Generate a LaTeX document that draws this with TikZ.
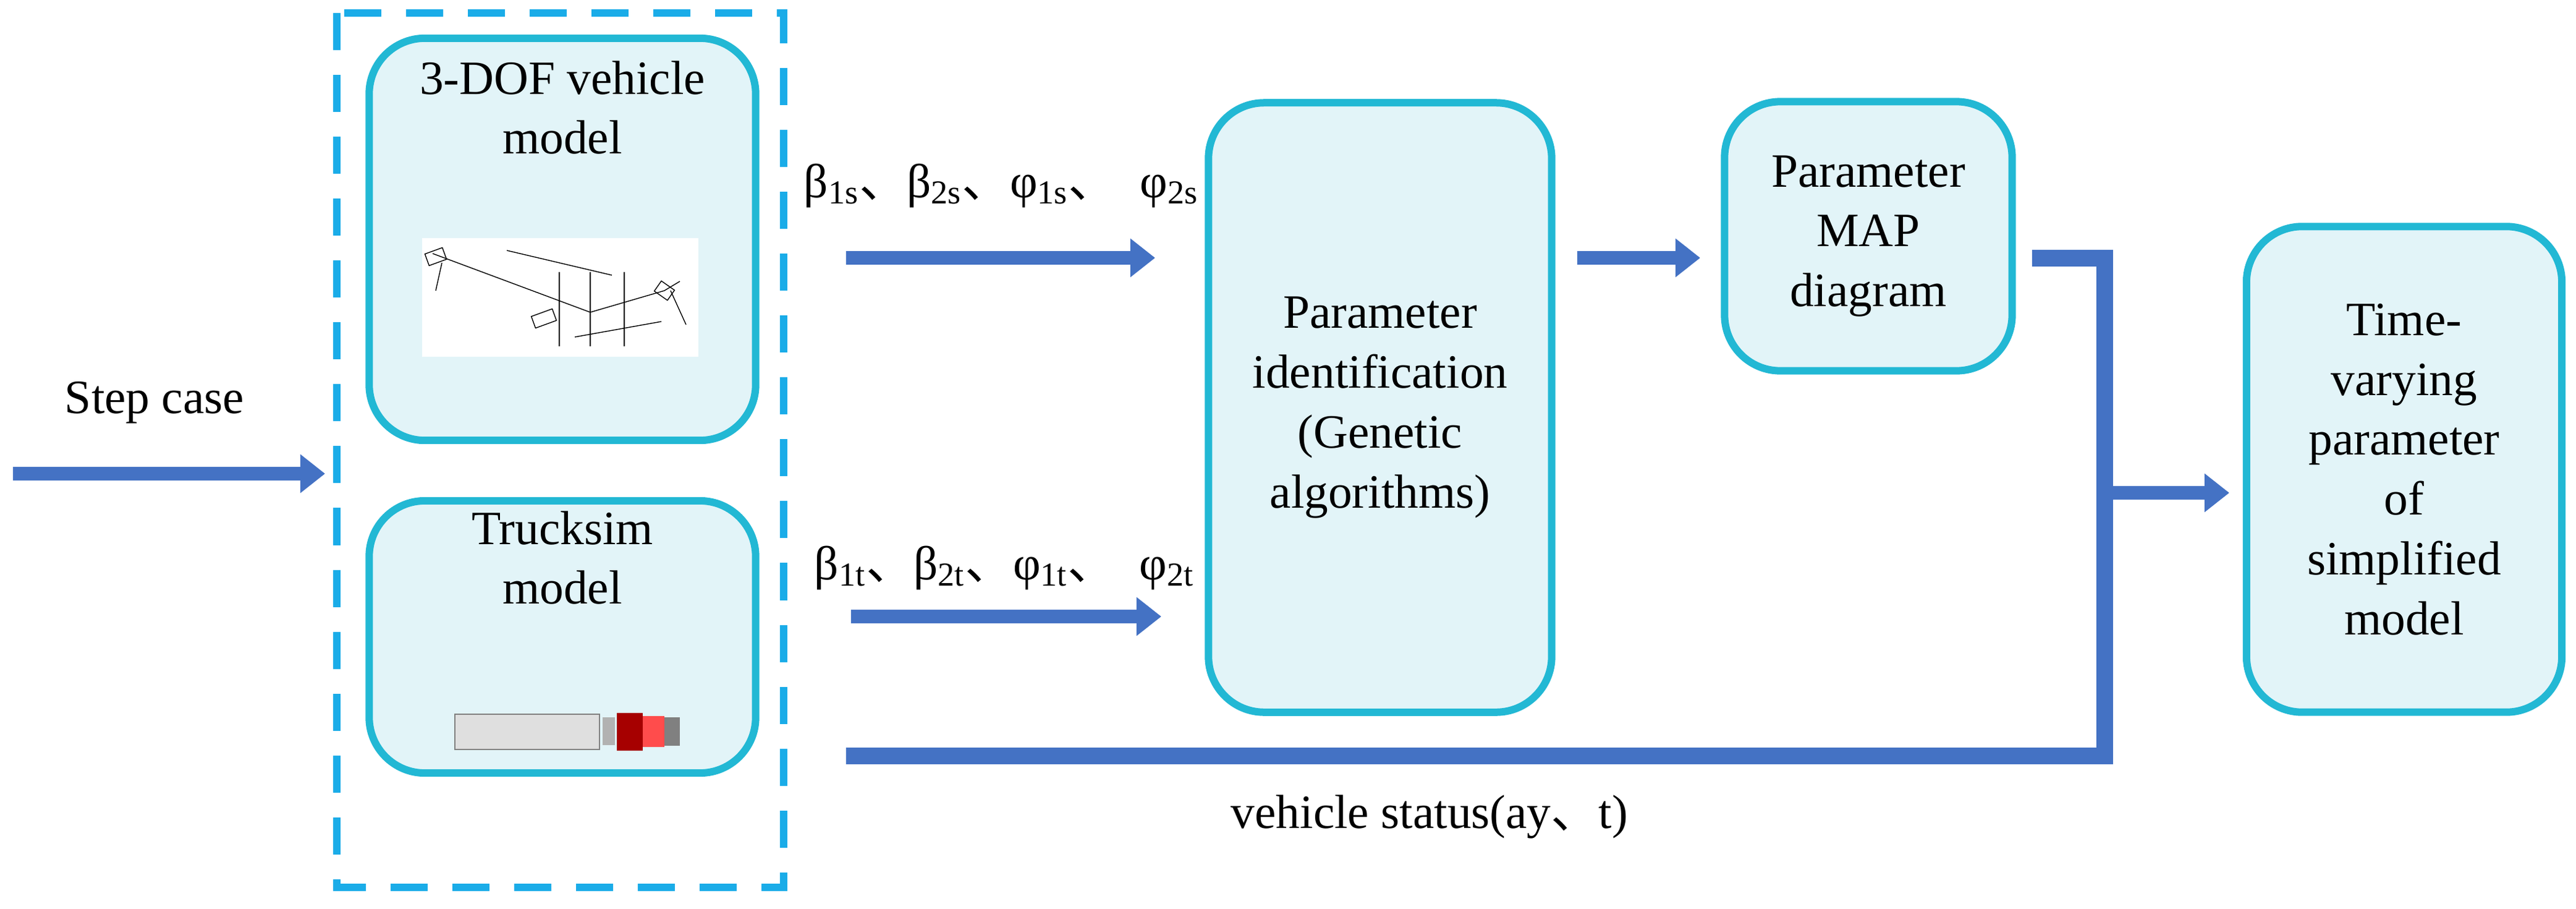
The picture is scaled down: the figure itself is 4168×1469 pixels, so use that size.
\documentclass[tikz,border=0pt]{standalone}
\usepackage{fontspec}
\setmainfont{Liberation Serif}
\newfontfamily\cjk{Noto Sans CJK SC}
\usetikzlibrary{arrows.meta}
\definecolor{boxfill}{HTML}{E2F4F8}
\definecolor{boxline}{HTML}{22B8D4}
\definecolor{flow}{HTML}{4472C4}
\definecolor{dashblue}{HTML}{1AACE8}
\tikzstyle{block} = [rectangle, rounded corners=0.9cm, align=center, draw=boxline, line width=1.2mm, fill=boxfill, font=\fontsize{22}{27.5}\selectfont]
\tikzstyle{label} = [font=\fontsize{22}{27.5}\selectfont, inner sep=0pt]
\tikzstyle{arrow} = [draw=flow, line width=2.2mm, -{Triangle[width=6mm,length=4mm]}]
\tikzstyle{bus} = [draw=flow, line width=2.7mm]
\newcommand{\dun}{{\cjk 、}}

\begin{document}
\begin{tikzpicture}[x=0.01cm, y=-0.01cm]
\useasboundingbox (0,0) rectangle (4168,1469);
\draw [dashblue, line width=1.2mm, dash pattern=on 6mm off 4mm] (545,21) rectangle (1268,1435);
\node (dof) [block, minimum width=6.25cm, minimum height=6.5cm] at (910,387) {3-DOF vehicle\\model\\[3.3cm]\mbox{}};
\node (truck) [block, minimum width=6.25cm, minimum height=4.4cm] at (910,1030) {Trucksim\\model\\[1.6cm]\mbox{}};
\node (pid) [block, minimum width=5.55cm, minimum height=9.85cm] at (2233,659) {Parameter\\identification\\(Genetic\\algorithms)};
\node (map) [block, minimum width=4.65cm, minimum height=4.35cm] at (3023,382) {Parameter\\MAP\\diagram};
\node (tv) [block, minimum width=5.1cm, minimum height=7.85cm] at (3890,759) {Time-\\varying\\parameter\\of\\simplified\\model};

% sketch of the 3-DOF model
\fill [white] (683,385) rectangle (1130,577);
\draw [thin] (700,410) -- (955,505) -- (1075,470) -- (1100,455);
\draw [thin] (715,425) -- (705,470) (1085,470) -- (1110,525);
\draw [thin] (820,405) -- (990,445) (930,545) -- (1070,520);
\draw [thin, rotate around={20:(705,415)}] (690,405) rectangle (720,425);
\draw [thin, rotate around={20:(880,515)}] (862,505) rectangle (898,525);
\draw [thin, rotate around={-35:(1075,470)}] (1062,460) rectangle (1088,480);
\foreach \px in {905, 955, 1010} {\draw [thin] (\px,440) -- (\px,560);}

% truck
\fill [gray!25] (736,1155) rectangle (970,1212);
\draw [gray] (736,1155) rectangle (970,1212);
\fill [gray!60] (975,1160) rectangle (995,1205);
\fill [red!65!black] (998,1153) rectangle (1040,1214);
\fill [red!70] (1040,1158) rectangle (1075,1208);
\fill [gray] (1075,1160) rectangle (1100,1206);

\node (step) [label] at (250,651) {Step case};
\coordinate (stepin) at (21,766);
\coordinate (stepout) at (526,766);
\draw [arrow] (stepin) -- (stepout);

\coordinate (s1) at (1369,417);
\coordinate (e1) at (1869,417);
\coordinate (s2) at (1377,997);
\coordinate (e2) at (1879,997);
\draw [arrow] (s1) -- (e1);
\draw [arrow] (s2) -- (e2);
\node (lbs) [label] at (1620,300) {β\textsubscript{1s}\dun β\textsubscript{2s}\dun φ\textsubscript{1s}\dun\ \ φ\textsubscript{2s}};
\node (lbt) [label] at (1625,918) {β\textsubscript{1t}\dun β\textsubscript{2t}\dun φ\textsubscript{1t}\dun\ \ φ\textsubscript{2t}};

\coordinate (m1) at (2552,417);
\coordinate (m2) at (2751,417);
\draw [arrow] (m1) -- (m2);
\coordinate (b1) at (3288,417);
\coordinate (b2) at (3405,1222);
\coordinate (b3) at (1369,1222);
\draw [bus] (b1) -| (b2) -- (b3);
\coordinate (t1) at (3405,797);
\coordinate (t2) at (3607,797);
\draw [arrow] (t1) -- (t2);
\node (status) [label] at (2313,1321) {vehicle status(ay\dun t)};
\end{tikzpicture}
\end{document}
